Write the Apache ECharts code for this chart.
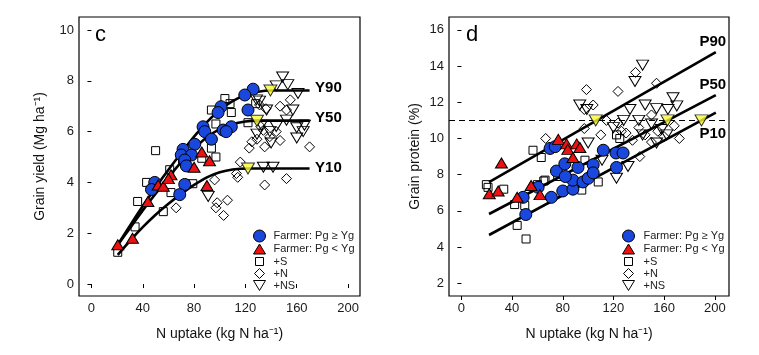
<!DOCTYPE html>
<html><head><meta charset="utf-8">
<script src="https://cdn.jsdelivr.net/npm/echarts@6/dist/echarts.min.js"></script>
<style>html,body{margin:0;padding:0;background:#fff}#c{width:759px;height:355px}</style>
</head><body><div id="c"></div>
<script>
// ---- ticks ----
const xTicks = [0, 40, 80, 120, 160, 200];
const yieldTicks = [0, 2, 4, 6, 8, 10];
const proteinTicks = [2, 4, 6, 8, 10, 12, 14, 16];
const legendNames = ['Farmer: Pg \u2265 Yg', 'Farmer: Pg < Yg', '+S', '+N', '+NS'];

// ---- panel c: N uptake vs grain yield ----
const yieldFarmerHi = [[126,7.67],[119.5,7.44],[122,6.85],[101,6.98],[98.7,6.75],[87,6.19],[88.3,6.0],[109,6.19],[102.6,6.06],[105,6.0],[93.5,5.7],[80.5,5.5],[71.4,5.3],[70,5.08],[78,5.08],[72.7,4.88],[74,4.65],[49.3,4.0],[46.8,3.72],[72.7,3.92],[68.8,3.52]];
const yieldFarmerLo = [[20.5,1.55],[32,1.8],[44,3.25],[52,3.9],[56,3.85],[62,4.3],[60,4.15],[80,4.6],[86,5.2],[92,4.85],[90,3.88]];
const yieldS = [[20.5,1.25],[34,2.25],[36,3.25],[43,4.0],[50,5.25],[56,2.85],[62,3.6],[61,4.5],[71,4.9],[73,3.95],[79,3.95],[86,4.95],[93.5,5.35],[97,5.0],[93.5,6.85],[97,6.3],[108,7.1],[109,6.75],[122,6.35],[128,7.1],[104,7.3]];
const yieldN = [[66,3.0],[96,4.1],[98,3.2],[97,3.0],[103,2.7],[106,3.3],[113,4.35],[114,4.2],[116,4.8],[123,5.35],[125,5.6],[129,5.7],[134,6.05],[135,5.4],[135,3.9],[139,5.8],[144,6.0],[147,5.65],[131,7.05],[136,6.9],[147,7.0],[152,6.85],[155,7.25],[152,4.15],[170,5.4],[132,6.2]];
const yieldNS = [[91,3.45],[134,4.6],[141.5,4.6],[129,5.9],[132.5,6.25],[139,6.0],[140,5.55],[144,6.2],[152,6.45],[160,6.15],[166,6.25],[160,5.75],[165,6.0],[131,7.2],[136.5,6.85],[144,7.8],[149,8.15],[153,7.85],[157,6.85],[161,7.5],[128.6,7.25]];
const curveY90 = [[19.5,1.47],[30,2.3],[40,3.07],[50,3.8],[60,4.5],[70,5.16],[80,5.8],[90,6.37],[100,6.85],[110,7.2],[120,7.44],[130,7.57],[140,7.62],[170,7.62]];
const curveY50 = [[19.5,1.47],[30,2.2],[40,2.9],[50,3.56],[60,4.2],[70,4.8],[80,5.33],[90,5.78],[100,6.1],[110,6.3],[120,6.4],[129,6.43],[170,6.43]];
const curveY10 = [[20.5,1.15],[30,1.7],[40,2.24],[50,2.73],[60,3.16],[70,3.55],[80,3.9],[90,4.2],[100,4.4],[110,4.51],[122,4.55],[170,4.55]];
const yieldTargets = [[139.5,7.62],[129,6.43],[122,4.55]];
const yieldCurveNames = ['Y90', 'Y50', 'Y10'];

// ---- panel d: N uptake vs grain protein ----
const protFarmerHi = [[50.8,5.8],[48.7,6.75],[60.5,7.3],[71,6.75],[80,7.1],[88,7.2],[88,7.7],[96,7.6],[100,7.8],[75,8.2],[81.6,8.6],[92,8.4],[104,8.55],[104,8.1],[70,9.45],[74,9.55],[112,9.35],[122,9.2],[127.6,9.2],[122.4,8.4],[82,7.9]];
const protFarmerLo = [[31.6,8.65],[22,6.95],[29,7.1],[44,6.75],[55,7.4],[62,6.9],[76.5,9.95],[83,9.7],[91,9.7],[93.5,9.5],[84,9.4],[88,8.95]];
const protS = [[19.7,7.45],[21,7.3],[33.4,7.2],[42,6.35],[50,6.3],[44,5.2],[51,4.45],[56.5,9.35],[63,8.95],[65,7.65],[66,7.7],[76,7.9],[95,7.15],[108,7.6],[97.5,8.8],[122.4,10.2],[125,10.0],[60,7.45]];
const protN = [[66.5,10.0],[98.7,12.7],[123.6,12.6],[137.4,13.65],[154,13.05],[104,11.85],[97,11.6],[97,10.55],[114.5,11.0],[123.6,10.85],[126.3,10.4],[140.8,9.0],[130,10.3],[135,9.9],[140,10.6],[145,10.2],[150,9.8],[155,10.4],[160,10.1],[168,10.7],[172,10.0],[150,11.3],[110,10.2]];
const protNS = [[143,14.05],[137,13.15],[93.4,11.85],[99,11.6],[133,11.6],[145,11.85],[154,11.65],[163,11.6],[167,12.25],[170,11.8],[100,9.75],[143,10.2],[158,10.5],[162,10.2],[131.5,8.45],[122.4,7.8],[111,8.8],[154,9.75],[120,10.6],[140,11.0],[150,10.8],[128,11.0]];
const lineP90 = [[21.8,7.59],[200.8,14.77]];
const lineP50 = [[21.8,5.83],[200.8,12.39]];
const lineP10 = [[21.8,4.67],[200.8,11.43]];
const protTargets = [[106,11],[162.6,11],[189.5,11]];
const protThreshold = 11;
const protLineNames = ['P90', 'P50', 'P10'];

// ---- styling ----
const FONT = 'Liberation Sans, Arial, sans-serif';
const DOWN = 'path://M0,0L12,0L6,10Z';
const UP = 'path://M6,0L12,10L0,10Z';
const symDefs = [
  {symbol:'circle', size:[12,12], color:'#1a48dc'},
  {symbol:UP, size:[12,10], color:'#ee1111'},
  {symbol:'rect', size:[8,8], color:'rgba(0,0,0,0)'},
  {symbol:'diamond', size:[10,10], color:'rgba(0,0,0,0)'},
  {symbol:DOWN, size:[12,10], color:'rgba(0,0,0,0)'}
];
const zOrder = [6, 6, 2, 2, 2];

function xAx(gi, min, max) {
  return {type:'value', gridIndex:gi, min, max,
    name:'N uptake (kg N ha\u207B\u00B9)', nameLocation:'middle', nameGap:31,
    nameTextStyle:{fontFamily:FONT, fontSize:14, color:'#111'},
    axisLine:{show:false}, splitLine:{show:false},
    axisTick:{show:true, length:4, lineStyle:{color:'#000', width:1}, customValues:xTicks},
    axisLabel:{customValues:xTicks, fontFamily:FONT, fontSize:13, color:'#1a1a1a', margin:6}};
}
function yAx(gi, min, max, ticks, name, gap) {
  return {type:'value', gridIndex:gi, min, max,
    name, nameLocation:'middle', nameGap:gap,
    nameTextStyle:{fontFamily:FONT, fontSize:14, color:'#111'},
    axisLine:{show:false}, splitLine:{show:false},
    axisTick:{show:true, length:4, lineStyle:{color:'#000', width:1}, customValues:ticks},
    axisLabel:{customValues:ticks, fontFamily:FONT, fontSize:13, color:'#1a1a1a', margin:5}};
}

function scatter(gi, idx, data) {
  const d = symDefs[idx];
  return {type:'scatter', name:legendNames[idx], xAxisIndex:gi, yAxisIndex:gi, data,
    symbol:d.symbol, symbolSize:d.size, z:zOrder[idx], silent:true,
    itemStyle:{color:d.color, borderColor:'#000', borderWidth:1, opacity:1}};
}
function curve(gi, data, name, labelPos, extra) {
  const last = data[data.length - 1];
  const s = {type:'line', xAxisIndex:gi, yAxisIndex:gi, data, showSymbol:false, silent:true,
    smooth:gi === 0 ? 0.15 : false, z:4,
    lineStyle:{color:'#000', width:2.6, join:'round'},
    markPoint:{symbol:'circle', symbolSize:1, silent:true, itemStyle:{color:'rgba(0,0,0,0)'},
      data:[{name, coord:last, label:Object.assign({show:true, formatter:'{b}', fontFamily:FONT, fontWeight:'bold', fontSize:15, color:'#000'}, labelPos)}]}};
  return Object.assign(s, extra || {});
}

const series = [];
[yieldS, yieldN, yieldNS].forEach((d, i) => series.push(scatter(0, i + 2, d)));
[protS, protN, protNS].forEach((d, i) => series.push(scatter(1, i + 2, d)));
series.push(curve(0, curveY90, yieldCurveNames[0], {position:'right', distance:5, offset:[0,-3]}));
series.push(curve(0, curveY50, yieldCurveNames[1], {position:'right', distance:5, offset:[0,-3]}));
series.push(curve(0, curveY10, yieldCurveNames[2], {position:'right', distance:5, offset:[0,-1]}));
series.push(curve(1, lineP90, protLineNames[0], {position:'top', distance:2, offset:[-3,0]}, {
  markLine:{silent:true, symbol:'none', animation:false, label:{show:false},
    lineStyle:{type:[6,4], color:'#000', width:1.2}, data:[{yAxis:protThreshold}]}}));
series.push(curve(1, lineP50, protLineNames[1], {position:'top', distance:2, offset:[-3,0]}));
series.push(curve(1, lineP10, protLineNames[2], {position:'bottom', distance:13, offset:[-3,0]}));
series.push(scatter(0, 0, yieldFarmerHi));
series.push(scatter(0, 1, yieldFarmerLo));
series.push(scatter(1, 0, protFarmerHi));
series.push(scatter(1, 1, protFarmerLo));
[[0, yieldTargets], [1, protTargets]].forEach(([gi, d]) => series.push({
  type:'scatter', name:'target', xAxisIndex:gi, yAxisIndex:gi, data:d, silent:true,
  symbol:DOWN, symbolSize:[13,11], z:8,
  itemStyle:{color:'#f8f83a', borderColor:'#000', borderWidth:1}}));

// legends: one per entry so each symbol keeps its own size
const legends = [];
const rowY = [236, 249, 261.5, 273.5, 285.5];
[[259, 273], [628, 643]].forEach(([cx, tx]) => {
  legendNames.forEach((n, i) => {
    const [w, h] = symDefs[i].size;
    legends.push({data:[n], left:cx - w / 2, top:rowY[i] - 7, padding:0,
      itemWidth:w, itemHeight:h, selectedMode:false, orient:'horizontal',
      itemStyle:{borderColor:'#000', borderWidth:1},
      textStyle:{fontFamily:FONT, fontSize:11, color:'#222', lineHeight:14, padding:[0,0,0,tx - (cx + w / 2) - 5]}});
  });
});

const option = {
  animation:false,
  backgroundColor:'#fff',
  title:[
    {text:'c', left:90, top:19, textStyle:{fontFamily:FONT, fontSize:22, fontWeight:'normal', color:'#000'}},
    {text:'d', left:461, top:19, textStyle:{fontFamily:FONT, fontSize:22, fontWeight:'normal', color:'#000'}}
  ],
  grid:[
    {left:79, top:17, width:281, height:279, show:true, borderColor:'#000', borderWidth:1.2, backgroundColor:'rgba(0,0,0,0)'},
    {left:449, top:17, width:280, height:279, show:true, borderColor:'#000', borderWidth:1.2, backgroundColor:'rgba(0,0,0,0)'}
  ],
  xAxis:[xAx(0, -9.7, 209.3), xAx(1, -9.8, 211.2)],
  yAxis:[
    yAx(0, -0.47, 10.51, yieldTicks, 'Grain yield (Mg ha\u207B\u00B9)', 32),
    yAx(1, 1.3, 16.71, proteinTicks, 'Grain protein (%)', 27)
  ],
  legend:legends,
  series
};
const chart = echarts.init(document.getElementById('c'));
chart.setOption(option);
</script></body></html>
